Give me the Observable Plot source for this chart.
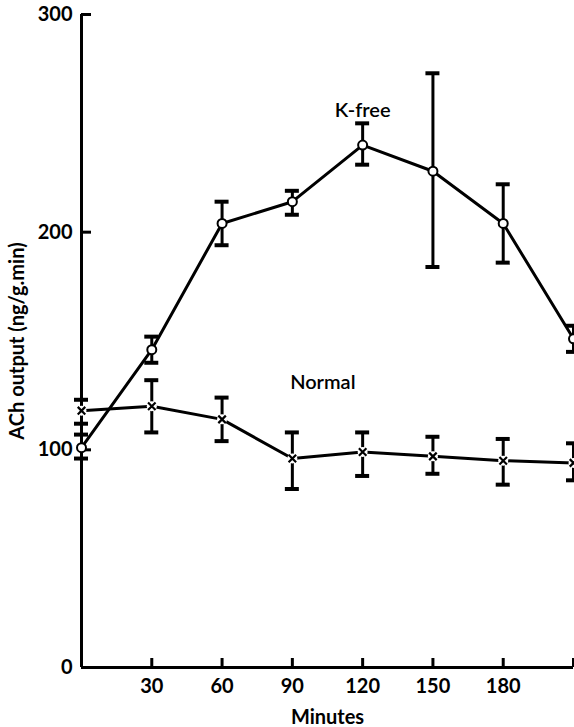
<!DOCTYPE html>
<html><head><meta charset="utf-8">
<script src="https://cdn.jsdelivr.net/npm/d3@7"></script>
<script src="https://cdn.jsdelivr.net/npm/@observablehq/plot@0.6"></script>
<style>body{margin:0;background:#fff;overflow:hidden;}</style>
</head><body><div id="chart"></div>
<script>
// Data (ACh output, ng/g.min, mean ± error)
const minutes = [0, 30, 60, 90, 120, 150, 180, 210];
const kfreeMean = [101, 146, 204, 214, 240, 228, 204, 151];
const kfreeLow  = [96, 140, 194, 208, 231, 184, 186, 145];
const kfreeHigh = [107, 152, 214, 219, 250, 273, 222, 157];
const normalMean = [118, 120, 114, 96, 99, 97, 95, 94];
const normalLow  = [112, 108, 104, 82, 88, 89, 84, 86];
const normalHigh = [123, 132, 124, 108, 108, 106, 105, 103];
const xTicks = [30, 60, 90, 120, 150, 180, 210];
const xTickLabels = [30, 60, 90, 120, 150, 180];
const yTicks = [0, 100, 200, 300];
const yTickMarks = [100, 200, 300];
const seriesNames = ["K-free", "Normal"];
const seriesLabelX = [120, 103];
const seriesLabelY = [256, 131];

const kfree = minutes.map((t, i) => ({t, mean: kfreeMean[i], lo: kfreeLow[i], hi: kfreeHigh[i]}));
const normal = minutes.map((t, i) => ({t, mean: normalMean[i], lo: normalLow[i], hi: normalHigh[i]}));
const labels = seriesNames.map((name, i) => ({name, x: seriesLabelX[i], y: seriesLabelY[i]}));

function errorBars(data) {
  return [
    Plot.ruleX(data, {x: "t", y1: "lo", y2: "hi", stroke: "black", strokeWidth: 3}),
    Plot.ruleY(data, {y: "lo", x1: "t", x2: "t", insetLeft: -7, insetRight: -7, stroke: "black", strokeWidth: 4}),
    Plot.ruleY(data, {y: "hi", x1: "t", x2: "t", insetLeft: -7, insetRight: -7, stroke: "black", strokeWidth: 4})
  ];
}

const chart = Plot.plot({
  width: 574,
  height: 727,
  marginTop: 14,
  marginBottom: 60,
  marginLeft: 81,
  marginRight: 1,
  style: {fontFamily: "Lato, 'Open Sans', sans-serif", fontSize: "20px", color: "black", background: "white"},
  x: {domain: [0, 210]},
  y: {domain: [0, 300]},
  marks: [
    Plot.axisX({ticks: xTickLabels, tickSize: 0, tickPadding: 11, fontWeight: "bold", fontSize: 20,
      label: "Minutes", labelAnchor: "center", labelOffset: 56, labelArrow: "none"}),
    Plot.axisY({ticks: yTicks, tickSize: 0, tickPadding: 9, fontWeight: "bold", fontSize: 20,
      label: "ACh output (ng/g.min)", labelAnchor: "center", labelOffset: 72, labelArrow: "none"}),
    Plot.ruleY([0], {stroke: "black", strokeWidth: 3}),
    Plot.ruleX([0], {stroke: "black", strokeWidth: 3}),
    Plot.ruleX(xTicks, {x: d => d, y1: 0, y2: 0, insetTop: -9, stroke: "black", strokeWidth: 3}),
    Plot.ruleY(yTickMarks, {y: d => d, x1: 0, x2: 0, insetRight: -10, stroke: "black", strokeWidth: 3}),
    ...errorBars(kfree),
    ...errorBars(normal),
    Plot.line(kfree, {x: "t", y: "mean", stroke: "black", strokeWidth: 3}),
    Plot.line(normal, {x: "t", y: "mean", stroke: "black", strokeWidth: 3}),
    Plot.dot(kfree, {x: "t", y: "mean", r: 4.5, fill: "white", stroke: "black", strokeWidth: 2}),
    Plot.dot(normal, {x: "t", y: "mean", r: 5, fill: "white", stroke: null}),
    Plot.dot(normal, {x: "t", y: "mean", symbol: "times", r: 3.5, stroke: "black", strokeWidth: 2.2}),
    Plot.text(labels, {x: "x", y: "y", text: "name", fontSize: 20, fontWeight: 600, fill: "black"})
  ]
});
document.getElementById("chart").appendChild(chart);
</script>
</body></html>
